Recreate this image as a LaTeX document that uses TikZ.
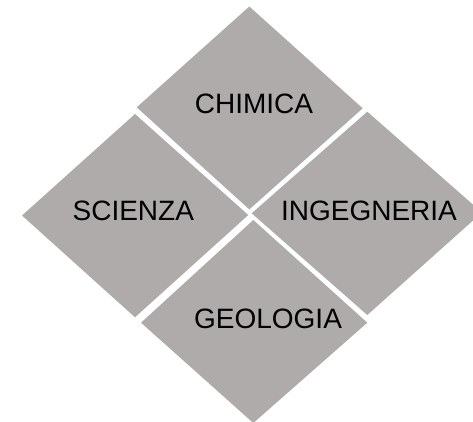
\documentclass[tikz,border=0pt]{standalone}
\usepackage{fontspec}
\setmainfont{Liberation Sans}
\definecolor{tile}{RGB}{174,171,170}
\tikzset{
  tilebox/.style={fill=tile, draw=none},
  lbl/.style={inner sep=0pt, font=\fontsize{28}{32}\selectfont, text=black}
}
\begin{document}
\begin{tikzpicture}[x=1pt,y=-1pt]
\useasboundingbox (0,0) rectangle (473,421);
\clip (0,0) rectangle (473,421);
% CHIMICA
\fill[tilebox] (249.3,6.5) -- (362.7,108.3) -- (249.3,209.4) -- (136.7,107.3) -- cycle;
% SCIENZA
\fill[tilebox] (135,114) -- (248.3,215) -- (135,317.3) -- (22,215.5) -- cycle;
% INGEGNERIA
\fill[tilebox] (367.3,111.7) -- (482,212.5) -- (367.3,315) -- (251.7,213.3) -- cycle;
% GEOLOGIA
\fill[tilebox] (253.3,220) -- (367.3,322.7) -- (253.3,423) -- (141,322.7) -- cycle;
\node[lbl] (chimica) at (254,104) {CHIMICA};
\node[lbl] (scienza) at (133.3,211) {SCIENZA};
\node[lbl] (ingegneria) at (369,210.5) {INGEGNERIA};
\node[lbl] (geologia) at (268,318.5) {GEOLOGIA};
\end{tikzpicture}
\end{document}
